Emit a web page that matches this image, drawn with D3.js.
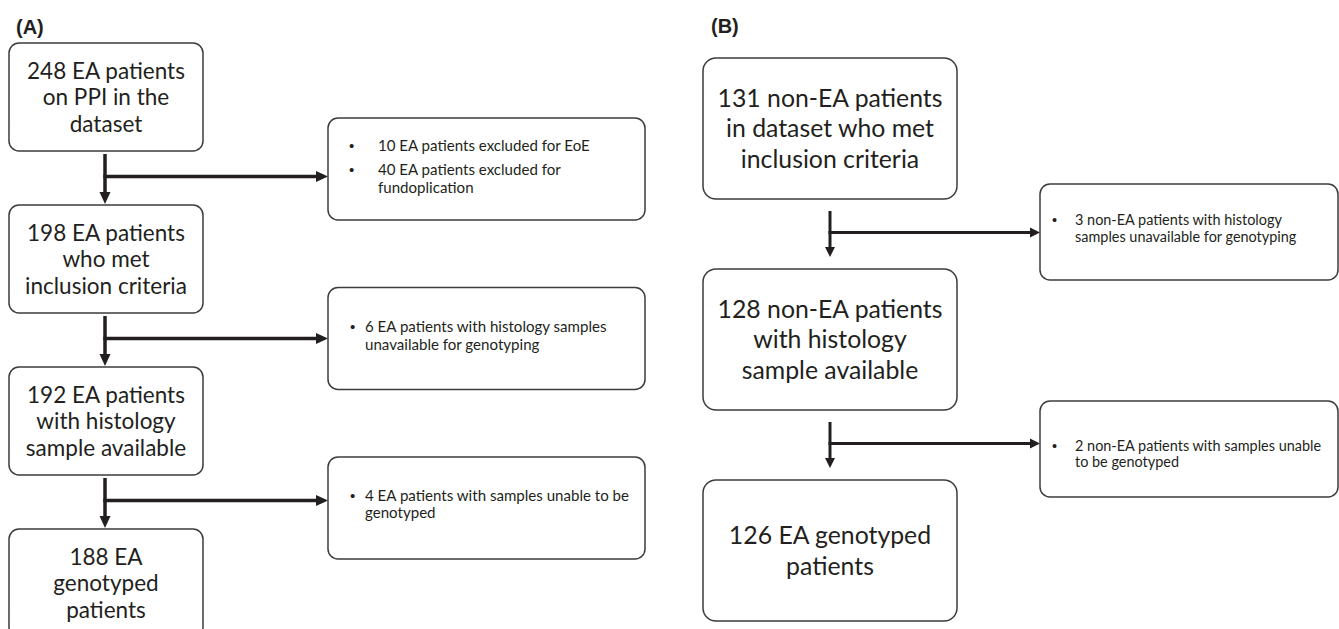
<!DOCTYPE html>
<html><head><meta charset="utf-8">
<script src="https://cdn.jsdelivr.net/npm/d3@7"></script>
<style>html,body{margin:0;padding:0;background:#fff}svg{display:block}</style>
</head><body>
<script>
// ---------------- DATA ----------------
const panelLabels = ["(A)", "(B)"];

const stepsA = [
  ["248 EA patients", "on PPI in the", "dataset"],
  ["198 EA patients", "who met", "inclusion criteria"],
  ["192 EA patients", "with histology", "sample available"],
  ["188 EA", "genotyped", "patients"]
];
const exclusionsA = [
  [["10 EA patients excluded for EoE"], ["40 EA patients excluded for", "fundoplication"]],
  [["6 EA patients with histology samples", "unavailable for genotyping"]],
  [["4 EA patients with samples unable to be", "genotyped"]]
];

const stepsB = [
  ["131 non-EA patients", "in dataset who met", "inclusion criteria"],
  ["128 non-EA patients", "with histology", "sample available"],
  ["126 EA genotyped", "patients"]
];
const exclusionsB = [
  [["3 non-EA patients with histology", "samples unavailable for genotyping"]],
  [["2 non-EA patients with samples unable", "to be genotyped"]]
];

// ---------------- LAYOUT ----------------
const W = 1339, H = 629;
const FONT = "Lato, 'Open Sans', sans-serif";
const INK = "#231f20";
const BORDER = "#3c3c3c";

const svg = d3.select("body").append("svg").attr("width", W).attr("height", H);

function fitSize(str, target, weight) {
  const t = svg.append("text").attr("font-family", FONT).attr("font-weight", weight || 400)
    .attr("font-size", 100).text(str);
  const w = t.node().getComputedTextLength();
  t.remove();
  return 100 * target / w;
}

const panels = [
  {
    label: panelLabels[0], labelX: 16, labelY: 34,
    steps: stepsA, excl: exclusionsA,
    boxX: 9, boxW: 194, boxH: 108, boxR: 10,
    top: d3.scaleLinear().domain([0, stepsA.length - 1]).range([43, 529]),
    fontRef: ["248 EA patients", 158], lineH: 26.5,
    arrowX: 105, stroke: 3.5, branchOff: 25.5, startGap: 3, endGap: 1, head: [12, 11],
    sideX: 328, sideW: 317, sideH: 102, sideR: 10,
    sideTop: d3.scaleLinear().domain([0, exclusionsA.length - 1]).range([118, 457]),
    sideFontRef: ["10 EA patients excluded for EoE", 212],
    sideLineH: 17.5, paraGap: 6.5,
    bulletX: [21, 22, 22], textX: [50, 37, 37], textShift: [-2.5, -3, -4]
  },
  {
    label: panelLabels[1], labelX: 711, labelY: 33,
    steps: stepsB, excl: exclusionsB,
    boxX: 703, boxW: 254, boxH: 141, boxR: 13,
    top: d3.scaleLinear().domain([0, stepsB.length - 1]).range([58, 480]),
    fontRef: ["131 non-EA patients", 225], lineH: 30.5,
    arrowX: 830, stroke: 3, branchOff: 33.5, startGap: 12, endGap: 12, head: [10, 10],
    sideX: 1040, sideW: 298, sideH: 96, sideR: 10,
    sideTop: d3.scaleLinear().domain([0, exclusionsB.length - 1]).range([184, 401]),
    sideFontRef: ["3 non-EA patients with histology", 207],
    sideLineH: 16.5, paraGap: 6,
    bulletX: [12, 12], textX: [35, 35], textShift: [-3.5, 5]
  }
];

panels.forEach(p => {
  const g = svg.append("g");
  const fs = fitSize(p.fontRef[0], p.fontRef[1]);
  const sfs = fitSize(p.sideFontRef[0], p.sideFontRef[1]);

  // panel label
  g.append("text").attr("x", p.labelX).attr("y", p.labelY)
    .attr("font-family", "'Liberation Sans', Arial, sans-serif").attr("font-weight", 700)
    .attr("font-size", 20).attr("fill", INK).text(p.label);

  // main boxes
  const boxes = g.selectAll("g.step").data(p.steps).join("g").attr("class", "step");
  boxes.append("rect")
    .attr("x", p.boxX).attr("y", (d, i) => p.top(i))
    .attr("width", p.boxW).attr("height", p.boxH)
    .attr("rx", p.boxR).attr("ry", p.boxR)
    .attr("fill", "#fff").attr("stroke", BORDER).attr("stroke-width", 1.5);
  boxes.each(function (lines, i) {
    const cy = p.top(i) + p.boxH / 2;
    const n = lines.length;
    d3.select(this).selectAll("text").data(lines).join("text")
      .attr("x", p.boxX + p.boxW / 2)
      .attr("y", (l, j) => cy + (j - (n - 1) / 2) * p.lineH)
      .attr("dy", "0.36em")
      .attr("text-anchor", "middle")
      .attr("font-family", FONT).attr("font-size", fs).attr("fill", INK)
      .text(l => l);
  });

  // connectors
  const [hl, hw] = p.head;
  p.excl.forEach((ex, i) => {
    const bottom = p.top(i) + p.boxH;
    const nextTop = p.top(i + 1);
    const y0 = bottom + p.startGap, y1 = nextTop - p.endGap;
    const by = bottom + p.branchOff;
    g.append("line").attr("x1", p.arrowX).attr("x2", p.arrowX)
      .attr("y1", y0).attr("y2", y1 - hl + 1)
      .attr("stroke", INK).attr("stroke-width", p.stroke);
    g.append("path")
      .attr("d", `M${p.arrowX - hw / 2},${y1 - hl} L${p.arrowX + hw / 2},${y1 - hl} L${p.arrowX},${y1} Z`)
      .attr("fill", INK);
    g.append("line").attr("x1", p.arrowX - p.stroke / 2).attr("x2", p.sideX - hl + 1)
      .attr("y1", by).attr("y2", by)
      .attr("stroke", INK).attr("stroke-width", p.stroke);
    g.append("path")
      .attr("d", `M${p.sideX - hl},${by - hw / 2} L${p.sideX - hl},${by + hw / 2} L${p.sideX},${by} Z`)
      .attr("fill", INK);
  });

  // side (exclusion) boxes
  p.excl.forEach((paras, i) => {
    const top = p.sideTop(i);
    g.append("rect")
      .attr("x", p.sideX).attr("y", top)
      .attr("width", p.sideW).attr("height", p.sideH)
      .attr("rx", p.sideR).attr("ry", p.sideR)
      .attr("fill", "#fff").attr("stroke", BORDER).attr("stroke-width", 1.5);
    const items = [];
    let y = 0;
    paras.forEach((para, pi) => {
      if (pi > 0) y += p.paraGap;
      para.forEach((line, li) => {
        items.push({ text: line, y: y, bullet: li === 0 });
        y += p.sideLineH;
      });
    });
    const blockH = y - p.sideLineH;
    const off = top + p.sideH / 2 - blockH / 2 + p.textShift[i];
    const tg = g.append("g");
    tg.selectAll("text.line").data(items).join("text").attr("class", "line")
      .attr("x", p.sideX + p.textX[i]).attr("y", d => off + d.y).attr("dy", "0.36em")
      .attr("font-family", FONT).attr("font-size", sfs).attr("fill", INK)
      .text(d => d.text);
    tg.selectAll("text.bullet").data(items.filter(d => d.bullet)).join("text").attr("class", "bullet")
      .attr("x", p.sideX + p.bulletX[i]).attr("y", d => off + d.y).attr("dy", "0.36em")
      .attr("font-family", "'Liberation Sans', Arial, sans-serif").attr("font-size", sfs).attr("fill", INK)
      .text("•");
  });
});
</script>
</body></html>
